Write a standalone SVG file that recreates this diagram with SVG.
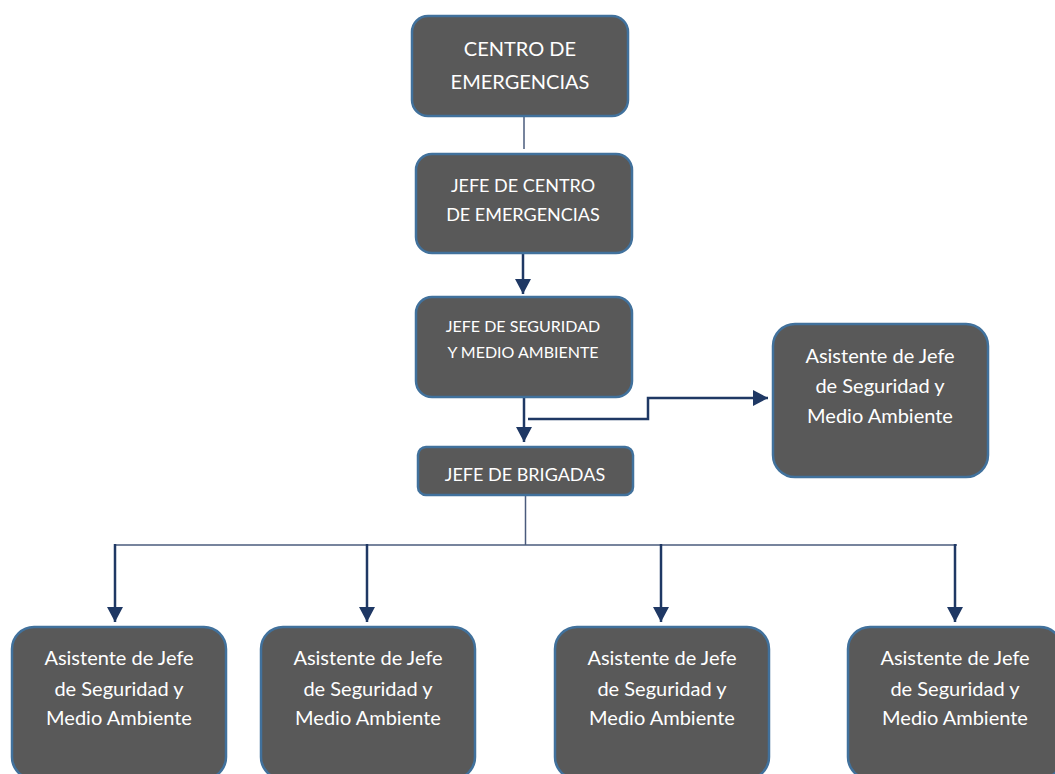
<svg xmlns="http://www.w3.org/2000/svg" width="1055" height="774" viewBox="0 0 1055 774">
  <style>
    .box { fill: #595959; stroke: #41719C; stroke-width: 2.5; }
    .lbl { fill: #FFFFFF; font-family: Lato, "Open Sans", "Liberation Sans", sans-serif; text-anchor: middle; }
    .big { font-size: 20px; }
    .mid { font-size: 18px; }
    .sm { font-size: 16px; }
    .thin { fill: none; stroke: #4A5B7C; stroke-width: 1.5; }
    .arr { fill: none; stroke: #1F3864; stroke-width: 2.5; marker-end: url(#head); }
  </style>
  <defs>
    <marker id="head" markerUnits="userSpaceOnUse" markerWidth="16" markerHeight="16" refX="15" refY="8" orient="auto">
      <path d="M0,0 L15,8 L0,16 Z" fill="#1F3864"/>
    </marker>
  </defs>
  <rect width="1055" height="774" fill="#FFFFFF"/>

  <g id="connectors">
    <line class="thin" x1="524" y1="117" x2="524" y2="149"/>
    <line class="arr" x1="523" y1="254" x2="523" y2="294"/>
    <line class="arr" x1="524" y1="398" x2="524" y2="442"/>
    <polyline class="arr" points="528,419 648,419 648,398 768,398"/>
    <line class="thin" x1="525.5" y1="496" x2="525.5" y2="545"/>
    <line class="thin" x1="115" y1="545" x2="957" y2="545"/>
    <line class="arr" x1="115" y1="544" x2="115" y2="622"/>
    <line class="arr" x1="367" y1="544" x2="367" y2="622"/>
    <line class="arr" x1="661" y1="544" x2="661" y2="622"/>
    <line class="arr" x1="955" y1="544" x2="955" y2="622"/>
  </g>

  <g id="centro-emergencias">
    <rect class="box" x="412" y="16" width="216" height="100" rx="16"/>
    <text class="lbl big" x="520" y="56">CENTRO DE</text>
    <text class="lbl big" x="520" y="89">EMERGENCIAS</text>
  </g>

  <g id="jefe-centro">
    <rect class="box" x="416" y="154" width="216" height="99" rx="16"/>
    <text class="lbl mid" x="523" y="192">JEFE DE CENTRO</text>
    <text class="lbl mid" x="523" y="221">DE EMERGENCIAS</text>
  </g>

  <g id="jefe-seguridad">
    <rect class="box" x="416" y="297" width="216" height="100" rx="16"/>
    <text class="lbl sm" x="523" y="332">JEFE DE SEGURIDAD</text>
    <text class="lbl sm" x="523" y="358">Y MEDIO AMBIENTE</text>
  </g>

  <g id="asistente-lateral">
    <rect class="box" x="773" y="324" width="215" height="153" rx="22"/>
    <text class="lbl big" x="880" y="363">Asistente de Jefe</text>
    <text class="lbl big" x="880" y="393">de Seguridad y</text>
    <text class="lbl big" x="880" y="423">Medio Ambiente</text>
  </g>

  <g id="jefe-brigadas">
    <rect class="box" x="418" y="447" width="215" height="48" rx="8"/>
    <text class="lbl mid" x="525" y="481">JEFE DE BRIGADAS</text>
  </g>

  <g id="asistente-1">
    <rect class="box" x="12" y="627" width="214" height="152" rx="22"/>
    <text class="lbl big" x="119" y="665">Asistente de Jefe</text>
    <text class="lbl big" x="119" y="696">de Seguridad y</text>
    <text class="lbl big" x="119" y="725">Medio Ambiente</text>
  </g>

  <g id="asistente-2">
    <rect class="box" x="261" y="627" width="214" height="152" rx="22"/>
    <text class="lbl big" x="368" y="665">Asistente de Jefe</text>
    <text class="lbl big" x="368" y="696">de Seguridad y</text>
    <text class="lbl big" x="368" y="725">Medio Ambiente</text>
  </g>

  <g id="asistente-3">
    <rect class="box" x="555" y="627" width="214" height="152" rx="22"/>
    <text class="lbl big" x="662" y="665">Asistente de Jefe</text>
    <text class="lbl big" x="662" y="696">de Seguridad y</text>
    <text class="lbl big" x="662" y="725">Medio Ambiente</text>
  </g>

  <g id="asistente-4">
    <rect class="box" x="848" y="627" width="214" height="152" rx="22"/>
    <text class="lbl big" x="955" y="665">Asistente de Jefe</text>
    <text class="lbl big" x="955" y="696">de Seguridad y</text>
    <text class="lbl big" x="955" y="725">Medio Ambiente</text>
  </g>
</svg>
